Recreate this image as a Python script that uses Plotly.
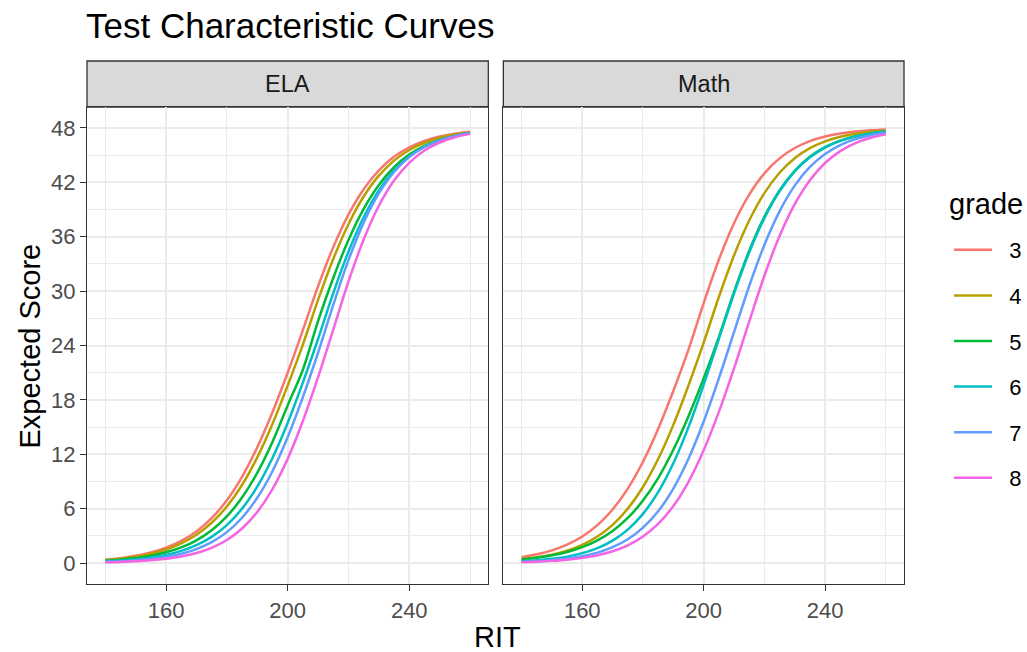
import plotly.graph_objects as go

# RIT values sampled every 5 points
rit = [140, 145, 150, 155, 160, 165, 170, 175, 180, 185, 190, 195, 200,
       205, 210, 215, 220, 225, 230, 235, 240, 245, 250, 255, 260]

grades = ["3", "4", "5", "6", "7", "8"]
colors = ["#F8766D", "#B79F00", "#00BA38", "#00BFC4", "#619CFF", "#F564E3"]

# expected score
ela_g3 = [0.38, 0.55, 0.81, 1.17, 1.70, 2.45, 3.50, 4.96, 6.93, 9.52, 12.77, 16.64, 20.99,
          25.70, 30.53, 34.85, 38.44, 41.24, 43.32, 44.81, 45.85, 46.56, 47.04, 47.36, 47.58]
ela_g4 = [0.34, 0.49, 0.72, 1.04, 1.51, 2.18, 3.13, 4.45, 6.24, 8.62, 11.66, 15.34, 19.58,
          24.10, 29.03, 33.55, 37.38, 40.43, 42.73, 44.39, 45.56, 46.36, 46.91, 47.27, 47.52]
ela_g5 = [0.26, 0.38, 0.56, 0.82, 1.20, 1.74, 2.52, 3.63, 5.16, 7.24, 9.96, 13.36, 17.39,
          21.33, 26.69, 31.45, 35.63, 39.06, 41.71, 43.66, 45.05, 46.01, 46.67, 47.12, 47.41]
ela_g6 = [0.19, 0.28, 0.41, 0.61, 0.91, 1.35, 1.98, 2.90, 4.20, 6.01, 8.45, 11.60, 15.46,
          19.92, 24.72, 29.78, 34.34, 38.14, 41.10, 43.28, 44.82, 45.89, 46.60, 47.08, 47.40]
ela_g7 = [0.13, 0.20, 0.30, 0.45, 0.69, 1.03, 1.55, 2.31, 3.42, 5.01, 7.21, 10.14, 13.88,
          18.31, 23.20, 28.48, 33.41, 37.55, 40.77, 43.13, 44.78, 45.89, 46.64, 47.12, 47.44]
ela_g8 = [0.09, 0.13, 0.20, 0.31, 0.48, 0.73, 1.11, 1.69, 2.55, 3.82, 5.64, 8.16, 11.50,
          15.67, 20.51, 25.76, 31.06, 35.68, 39.41, 42.19, 44.15, 45.50, 46.39, 46.97, 47.34]

# expected score
math_g3 = [0.66, 0.97, 1.41, 2.04, 2.94, 4.19, 5.92, 8.22, 11.18, 14.80, 19.00, 23.54, 28.68,
           33.46, 37.49, 40.65, 42.99, 44.64, 45.78, 46.54, 47.05, 47.38, 47.60, 47.74, 47.83]
math_g4 = [0.43, 0.64, 0.94, 1.38, 2.02, 2.93, 4.22, 6.01, 8.40, 11.48, 15.25, 19.61, 24.31,
           29.35, 33.93, 37.78, 40.80, 43.05, 44.65, 45.76, 46.51, 47.02, 47.36, 47.58, 47.72]
math_g5 = [0.41, 0.60, 0.86, 1.23, 1.76, 2.51, 3.55, 4.98, 6.90, 9.38, 12.50, 16.21, 20.38,
           24.92, 29.92, 34.44, 38.19, 41.11, 43.27, 44.81, 45.87, 46.59, 47.07, 47.39, 47.60]
math_g6 = [0.21, 0.31, 0.48, 0.72, 1.10, 1.66, 2.49, 3.70, 5.43, 7.83, 11.01, 15.00, 19.68,
           24.72, 29.73, 34.27, 38.05, 41.01, 43.20, 44.76, 45.83, 46.56, 47.05, 47.38, 47.59]
math_g7 = [0.14, 0.22, 0.33, 0.51, 0.77, 1.16, 1.76, 2.63, 3.91, 5.72, 8.23, 11.52, 15.62,
           20.37, 25.47, 30.56, 35.09, 38.80, 41.63, 43.69, 45.13, 46.11, 46.76, 47.19, 47.48]
math_g8 = [0.11, 0.16, 0.25, 0.38, 0.58, 0.87, 1.31, 1.97, 2.94, 4.33, 6.29, 8.97, 12.44,
           16.68, 21.49, 26.64, 31.69, 36.07, 39.59, 42.23, 44.13, 45.44, 46.32, 46.91, 47.29]

ela = [ela_g3, ela_g4, ela_g5, ela_g6, ela_g7, ela_g8]
math = [math_g3, math_g4, math_g5, math_g6, math_g7, math_g8]

FONT = "Liberation Sans, Arial, sans-serif"
GRID = "#EBEBEB"
DARK = "#333333"

fig = go.Figure()

for i, g in enumerate(grades):
    # leading non-breaking spaces push the label away from the key, like ggplot
    fig.add_trace(go.Scatter(x=rit, y=ela[i], mode="lines", name="\u00a0\u00a0" + g,
                             line=dict(color=colors[i], width=2.5, shape="spline"),
                             legendgroup=g, showlegend=True,
                             xaxis="x", yaxis="y"))
for i, g in enumerate(grades):
    fig.add_trace(go.Scatter(x=rit, y=math[i], mode="lines", name=g,
                             line=dict(color=colors[i], width=2.5, shape="spline"),
                             legendgroup=g, showlegend=False,
                             xaxis="x2", yaxis="y2"))

xcommon = dict(range=[134, 266], tick0=0, dtick=40, showgrid=True, gridcolor=GRID,
               gridwidth=2, zeroline=False, showline=True, mirror=True,
               linecolor=DARK, linewidth=1.3, ticks="outside", ticklen=6,
               tickwidth=1.3, tickcolor=DARK,
               tickfont=dict(family=FONT, size=22, color="#4D4D4D"),
               minor=dict(dtick=20, showgrid=True, gridcolor=GRID, gridwidth=1, ticks=""))
ycommon = dict(range=[-2.3, 50.3], tick0=0, dtick=6, showgrid=True, gridcolor=GRID,
               gridwidth=2, zeroline=False, showline=True, mirror=True,
               linecolor=DARK, linewidth=1.3, tickwidth=1.3, tickcolor=DARK,
               tickfont=dict(family=FONT, size=22, color="#4D4D4D"),
               minor=dict(dtick=3, showgrid=True, gridcolor=GRID, gridwidth=1, ticks=""),
               domain=[0, 0.912])

fig.update_layout(
    width=1027, height=652,
    margin=dict(l=87, r=123, t=61, b=68),
    paper_bgcolor="white", plot_bgcolor="white",
    font=dict(family=FONT, color="black"),
    xaxis=dict(domain=[0, 0.4912], anchor="y", **xcommon),
    xaxis2=dict(domain=[0.5096, 1], anchor="y2", **xcommon),
    yaxis=dict(anchor="x", ticks="outside", ticklen=6, **ycommon),
    yaxis2=dict(anchor="x2", matches="y", ticks="", showticklabels=False, **ycommon),
    title=dict(text="Test Characteristic Curves", x=86 / 1027, xref="container",
               xanchor="left", y=1 - 26 / 652, yanchor="middle",
               font=dict(family=FONT, size=35, color="black")),
    legend=dict(xref="container", yref="container", x=949 / 1027, y=1 - 229 / 652,
                xanchor="left", yanchor="top",
                font=dict(family=FONT, size=22, color="black"),
                tracegroupgap=14, itemwidth=38, bgcolor="rgba(0,0,0,0)"),
    showlegend=True,
)

# facet strips
for xr, label in [("x domain", "ELA"), ("x2 domain", "Math")]:
    fig.add_shape(type="rect", xref=xr, yref="paper", x0=0, x1=1, y0=0.912, y1=1.0,
                  fillcolor="#D9D9D9", line=dict(color=DARK, width=1.3), layer="below")
    fig.add_annotation(text=label, xref=xr, yref="paper", x=0.5, y=0.956,
                       showarrow=False, xanchor="center", yanchor="middle",
                       font=dict(family=FONT, size=23.5, color="#1A1A1A"))

# legend title and axis titles
fig.add_annotation(text="grade", xref="paper", yref="paper", x=(947 - 87) / 817,
                   y=(584 - 204) / 523, showarrow=False, xanchor="left", yanchor="middle",
                   font=dict(family=FONT, size=29, color="black"))
fig.add_annotation(text="RIT", xref="paper", yref="paper", x=0.502, y=-0.101,
                   showarrow=False, xanchor="center", yanchor="middle",
                   font=dict(family=FONT, size=29, color="black"))
fig.add_annotation(text="Expected Score", xref="paper", yref="paper", x=-0.0698,
                   y=0.456, textangle=-90, showarrow=False, xanchor="center",
                   yanchor="middle", font=dict(family=FONT, size=29, color="black"))

fig.write_html("out.html", config={"displayModeBar": False},
               post_script="document.body.style.margin='0';")
